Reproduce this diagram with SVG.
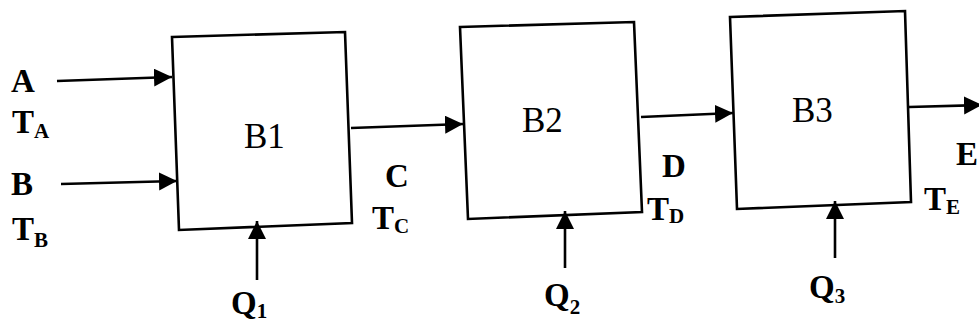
<svg xmlns="http://www.w3.org/2000/svg" width="979" height="328" viewBox="0 0 979 328">
<style>
.box{fill:#fff;stroke:#000;stroke-width:2.6;stroke-linejoin:miter}
.lbl{font-family:"Liberation Serif","Times New Roman",serif;font-size:35px;fill:#000}
.v{font-family:"Liberation Serif","Times New Roman",serif;font-weight:bold;font-size:33px;fill:#000}
.s{font-size:21px}
.c{stroke:#000;stroke-width:2.6;fill:none;marker-end:url(#ah)}
</style>
<defs>
<marker id="ah" markerUnits="userSpaceOnUse" markerWidth="19" markerHeight="19" refX="18" refY="9" orient="auto">
<path d="M0,0 L18,9 L0,18 z" fill="#000"/>
</marker>
</defs>
<rect width="979" height="328" fill="#fff"/>
<g id="B1">
<polygon class="box" points="172,37 345,32 352,223 179,230"/>
<text class="lbl" x="244" y="148">B1</text>
</g>
<g id="B2">
<polygon class="box" points="460,27 634,22 642,212 468,219"/>
<text class="lbl" x="522" y="132">B2</text>
</g>
<g id="B3">
<polygon class="box" points="730,17 905,11 911,202 737,209"/>
<text class="lbl" x="792" y="122">B3</text>
</g>
<g id="connectors">
<line class="c" x1="57" y1="81" x2="172" y2="77"/>
<line class="c" x1="61" y1="184" x2="177" y2="181"/>
<line class="c" x1="351" y1="128" x2="463" y2="124"/>
<line class="c" x1="641" y1="117" x2="733" y2="113"/>
<line class="c" x1="909" y1="107" x2="982" y2="105"/>
<line class="c" x1="257" y1="280" x2="257" y2="221"/>
<line class="c" x1="565" y1="268" x2="565" y2="211"/>
<line class="c" x1="835" y1="258" x2="835" y2="201"/>
</g>
<g id="labels">
<text class="v" x="11" y="92">A</text>
<text class="v" x="12" y="133">T<tspan class="s" dy="5">A</tspan></text>
<text class="v" x="11" y="195">B</text>
<text class="v" x="12" y="240">T<tspan class="s" dy="7">B</tspan></text>
<text class="v" x="385" y="187">C</text>
<text class="v" x="372" y="229">T<tspan class="s" dy="4">C</tspan></text>
<text class="v" x="662" y="177">D</text>
<text class="v" x="647" y="220">T<tspan class="s" dy="3">D</tspan></text>
<text class="v" x="956" y="165">E</text>
<text class="v" x="924" y="210">T<tspan class="s" dy="4">E</tspan></text>
<text class="v" x="231" y="314">Q<tspan class="s" dy="4">1</tspan></text>
<text class="v" x="544" y="306">Q<tspan class="s" dy="8">2</tspan></text>
<text class="v" x="809" y="298">Q<tspan class="s" dy="5">3</tspan></text>
</g>
</svg>
